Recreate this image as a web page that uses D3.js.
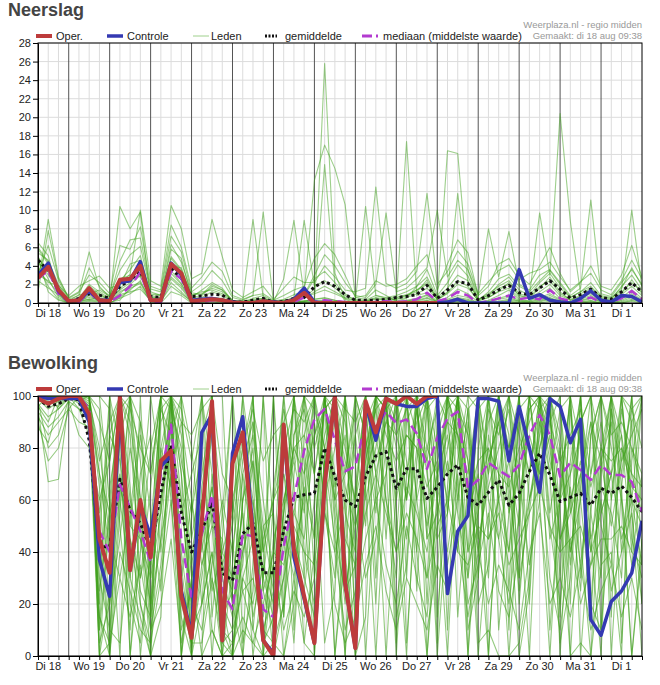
<!DOCTYPE html>
<html>
<head>
<meta charset="utf-8">
<script src="https://cdn.jsdelivr.net/npm/d3@7"></script>
<style>
  body { margin: 0; background: #fff; }
  svg { display: block; font-family: Arial, "Liberation Sans", sans-serif; }
</style>
</head>
<body>
<div id="chart"></div>
<script>
// 6-hourly steps from di 18 aug 06:00 up to wo 2 sep 00:00 (60 steps)
const dayLabels = ["Di 18", "Wo 19", "Do 20", "Vr 21", "Za 22", "Zo 23", "Ma 24", "Di 25",
                   "Wo 26", "Do 27", "Vr 28", "Za 29", "Zo 30", "Ma 31", "Di 1"];
const rainTicks = [0, 2, 4, 6, 8, 10, 12, 14, 16, 18, 20, 22, 24, 26, 28];
const cloudTicks = [0, 20, 40, 60, 80, 100];

// ---- Neerslag (mm) ----
const rainOper = [2.7,3.9,1.4,  0.2,0.3,1.6,0.3,  0.2,2.5,2.6,4.0,  0.3,0.3,4.2,3.2,  0.2,0.3,0.4,0.3,
  0.05,0,0,0.2,  0.05,0,0.3,1.1,  0,0,0,0,  0,0,0,0,  0,0,0,0,  0];
const rainControl = [3.0,4.3,1.3,  0.2,0.3,1.3,0.3,  0.3,2.2,2.4,4.45,  0.3,0.3,4.3,3.0,  0.3,0.4,0.5,0.3,
  0.1,0,0,0.2,  0.1,0,0.4,1.6,  0.1,0,0,0,  0,0,0,0,  0,0,0,0,  0,0.1,0.4,0,  0,0,0,0,
  3.6,0.5,0.9,0.3,  0.1,0,0.5,1.3,  0.3,0.1,0.8,0.7,  0.1];
const rainMean = [4.6,3.5,1.4,  0.15,0.5,1.0,0.85,  0.5,1.75,2.5,3.4,  0.7,0.6,3.7,2.65,  0.7,0.75,0.95,0.85,
  0.15,0.1,0.3,0.5,  0.1,0.15,0.5,0.6,  1.75,2.3,1.8,0.9,  0.3,0.3,0.3,0.4,  0.6,0.7,0.9,1.9,
  0.5,1.4,2.3,2.1,  0.3,0.8,1.4,1.9,  1.1,0.9,1.6,2.4,  1.5,0.5,0.9,1.5,  0.6,0.4,1.2,2.2,  1.2];
const rainMedian = [2.6,3.5,1.0,  0.1,0.1,1.2,0.1,  0.1,0.8,1.8,3.3,  0.1,0.1,3.4,2.6,  0.1,0.1,0.3,0.3,
  0,0,0,0.1,  0,0,0.1,0.6,  0.1,0.3,0.2,0.1,  0,0,0.1,0.2,  0.1,0.2,0.4,1.1,
  0.2,0.5,1.2,0.8,  0,0.2,0.5,0.8,  0.4,0.6,0.4,1.4,  0.5,0.2,0.2,0.6,  0.1,0.1,0.5,1.3,  0.4];
const rainMembers = [
  [5.8,4.2,1.6,  0.2,0.4,1.2,0.8,  0.3,1.5,2.8,3.9,  0.6,0.4,4.1,3.0,  0.5,0.6,1.2,0.8,  0.1,0,0.2,0.3,  0,0.1,0.4,0.6,  1.5,25.8,3.2,0.4,  0,0.2,0.5,0.3,  0.4,0.8,1.2,2.5,  0.3,1.1,2.4,1.8,  0.2,0.6,1.3,2.2,  0.8,0.5,1.6,2.8,  1.2,0.3,0.7,1.4,  0.5,0.2,1.0,2.5,  1.0],
  [2.1,9.0,2.8,  0.5,1.1,5.5,1.6,  0.8,3.5,5.2,6.1,  1.2,0.8,6.3,4.4,  1.1,0.9,2.0,1.4,  0.3,0.1,0.5,0.8,  0.2,0.4,0.9,1.2,  13.2,17.0,14.5,10.6,  0.6,0.4,1.4,0.8,  0.2,0.5,1.8,3.6,  0.8,2.2,4.1,2.9,  0.3,1.2,2.6,3.1,  1.8,1.2,2.4,3.5,  2.0,0.6,1.2,2.2,  0.8,0.6,1.6,3.8,  1.8],
  [6.5,5.1,0.8,  0,0.2,0.4,0.3,  0.1,10.4,8.0,9.8,  0.3,0.2,3.5,2.1,  0.2,0.3,0.5,0.4,  0,0,0.1,0,  0,0,0.1,0.2,  0.3,14.9,2.0,0.2,  0.1,0,0.2,0.1,  0.3,17.4,0.8,1.1,  0.2,0.6,1.5,1.0,  0.1,0.3,0.8,1.4,  0.4,0.2,0.9,1.6,  0.5,0.1,0.4,0.8,  0.2,0.1,0.6,1.4,  0.5],
  [3.6,2.2,1.9,  0.8,1.8,2.4,2.9,  1.6,2.0,3.1,10.0,  2.4,1.8,10.5,8.0,  2.6,3.2,9.0,5.0,  1.4,0.6,1.2,1.8,  0.4,1.6,2.8,2.2,  2.2,4.0,2.8,1.4,  1.2,1.6,12.5,2.1,  1.6,2.1,3.4,11.8,  2.0,3.4,5.6,4.2,  1.0,2.3,3.5,4.1,  2.5,3.2,3.6,4.4,  2.8,1.4,2.3,3.2,  1.4,0.9,2.4,4.6,  2.6],
  [4.8,1.2,0.3,  0,0,0.2,0.1,  0,0.5,1.0,1.8,  0.1,0,1.2,0.8,  0,0,0.1,0,  0,0,0,0,  0,0,0,0,  0,0.2,0.1,0,  0,0,0,0,  0,0,0.1,0.3,  0,0,0.2,0.1,  0,0,0,0.2,  0,0,0.1,0.4,  0.1,0,0,0.1,  0,0,0,0.3,  0.1],
  [4.2,3.8,1.1,  0.2,0.6,1.5,0.9,  0.4,2.4,3.6,5.1,  0.8,0.5,5.0,3.6,  0.6,1.4,2.2,1.6,  0.2,0.2,9.0,0.6,  0,0.3,0.5,0.8,  2.6,3.4,2.2,1.0,  0.2,10.4,0.8,0.5,  0.6,0.9,1.4,2.2,  0.4,16.4,16.1,3.5,  0.4,0.8,2.0,2.8,  1.4,0.8,2.2,3.2,  1.6,0.6,1.2,1.8,  0.6,0.4,1.8,3.0,  1.4],
  [5.0,3.0,1.5,  0.1,0.3,0.6,0.4,  0.2,1.0,2.0,3.0,  0.4,0.3,3.2,2.0,  0.3,0.4,0.6,0.5,  0,0,0.1,0.2,  0,0,0.1,0.2,  0.4,0.6,0.3,0.1,  0,0,0.1,0,  0.1,0.2,0.4,0.8,  0.1,0.3,0.6,0.4,  0,0.1,0.4,0.6,  0.2,0.1,0.4,0.8,  0.3,0.1,0.2,0.5,  0.1,0,0.3,0.8,  0.3],
  [3.2,6.2,2.4,  0.4,0.8,3.8,1.8,  0.6,4.5,6.8,7.0,  1.5,1.2,7.2,5.5,  1.2,2.0,3.5,2.4,  0.6,0.3,0.8,9.8,  0.1,2.6,8.9,0.9,  3.0,5.2,4.0,2.2,  0.8,0.6,2.0,9.7,  1.2,1.6,2.6,3.8,  10.0,2.8,4.6,3.6,  0.8,8.0,2.8,7.7,  2.0,1.4,3.0,3.6,  2.2,0.8,1.6,11.1,  1.0,0.7,2.2,3.6,  2.0],
  [4.6,2.6,0.6,  0,0.1,0.3,0.2,  0,0.6,1.4,2.4,  0.2,0.1,2.2,1.2,  0.1,0.1,0.2,0.1,  0,0,0,0,  0,0,0,0.1,  0.1,0.2,0.1,0,  0,0,0,0,  0,0.1,0.2,0.5,  0,0.1,0.4,0.2,  0,0,0.1,0.3,  0.1,0,0.2,0.5,  0.1,0,0.1,0.2,  0,0,0.1,0.4,  0.2],
  [5.4,4.6,2.0,  0.3,0.5,2.0,1.2,  0.5,1.8,4.2,4.6,  1.0,0.9,4.8,3.4,  0.9,1.0,1.6,1.2,  0.3,0.1,0.4,0.5,  0.1,0.2,0.6,8.9,  1.8,2.4,1.6,0.8,  0.4,0.3,0.8,0.6,  0.8,1.2,1.8,2.8,  0.6,1.6,3.0,2.4,  0.4,1.0,1.8,2.4,  1.0,0.7,9.7,3.0,  20.4,8.8,1.0,1.6,  0.7,0.5,1.4,10.0,  1.6],
  [3.9,1.8,0.4,  0,0.1,0.8,0.2,  0.1,0.3,1.6,2.1,  0.2,0.2,2.6,1.6,  0.1,0.2,0.3,0.2,  0,0,0,0.1,  0,0,0.1,0.1,  0.2,0.3,0.2,0.1,  0,0.1,0.1,0,  0,0.2,0.3,0.6,  0.1,0.2,0.5,0.3,  0,0.1,0.2,0.4,  0.2,0.1,0.3,0.6,  0.2,0.1,0.1,0.3,  0,0.1,0.2,0.6,  0.3],
  [4.9,3.4,1.8,  0.2,0.9,1.0,1.4,  0.7,2.6,3.0,2.8,  0.9,0.8,4.0,3.8,  0.8,1.2,1.4,1.0,  0.2,0.2,0.3,0.5,  0.2,0.3,0.4,0.5,  1.2,1.8,1.2,0.6,  0.3,0.2,0.6,0.4,  0.6,0.8,1.4,2.0,  0.5,1.2,11.8,2.2,  0.4,0.8,1.6,2.0,  0.8,0.6,1.8,2.4,  1.0,0.4,0.8,1.2,  0.4,0.3,1.2,2.2,  1.2],
  [2.4,1.6,0.9,  0,0.2,0.4,0.6,  0.2,0.9,1.2,1.5,  0.3,0.2,1.8,1.0,  0.2,0.3,0.4,0.3,  0,0,0.1,0.1,  0,0,0,0.1,  0,0.1,0,0,  0,0,0,0,  0,0,0.1,0.2,  0,0,0.1,0,  0,0,0,0.1,  0,0,0,0.2,  0,0,0,0.1,  0,0,0,0.2,  0],
  [1.2,7.8,2.6,  0.6,1.2,3.0,2.2,  1.0,6.2,5.8,8.2,  1.8,1.4,8.4,6.0,  1.6,2.8,4.4,3.4,  0.8,0.4,0.8,1.0,  0.3,0.8,1.4,1.8,  4.8,6.4,5.2,3.0,  0.6,0.8,2.4,1.8,  2.0,2.6,4.0,5.2,  1.4,4.2,6.8,5.4,  0.8,1.8,4.2,4.8,  3.0,2.0,4.0,6.0,  3.2,1.2,2.2,4.0,  1.8,1.4,3.0,6.2,  2.8],
  [6.0,4.4,1.2,  0.1,0.2,0.9,0.5,  0.2,1.2,1.8,2.2,  0.4,0.4,2.8,1.8,  0.2,0.2,0.4,0.4,  0,0,0.1,0.1,  0,0.1,0.2,0.2,  0.4,0.5,0.3,0.1,  0,0,0.1,0.1,  0.1,0.3,0.5,0.9,  0.1,0.4,0.8,0.6,  0,0.2,0.5,0.8,  0.3,0.2,0.6,1.0,  0.4,0.1,0.3,0.6,  0.1,0.1,0.5,1.0,  0.4],
  [3.0,2.4,1.0,  0.2,0.4,1.8,1.0,  0.4,1.4,2.2,3.4,  0.6,0.6,5.8,4.8,  0.6,0.8,1.8,1.4,  0.2,0.1,0.2,0.4,  0.1,0.2,0.5,0.7,  1.0,1.4,1.0,0.5,  0.2,0.2,0.4,0.3,  0.4,0.6,1.0,1.6,  0.4,1.0,2.0,1.6,  0.3,0.6,1.2,1.6,  0.6,0.5,1.2,2.0,  0.8,0.3,0.6,1.0,  0.3,0.2,0.9,1.8,  0.8]
];

// ---- Bewolking (%) ----
const cloudOper = [99,97,99,100,100,93,  45,32,100,33,60,38,75,79,23,7,  52,98,6,74,86,46,6,0,89,41,
  23,5,66,100,28,3,98,86,99,97,  100,97,100,100];
const cloudControl = [100,99,99,99,99,90,  37,23,95,33,58,46,73,77,25,8,  86,93,6,78,92,48,6,1,88,38,
  22,5,66,100,28,3,97,83,99,97,  96,96,99,100,24,48,54,99,99,98,  75,96,80,63,99,96,82,91,14,8,  21,25,32,52];
const cloudMean = [99,96,97,99,98.5,83,  42,42,68,56,51,41,63,81,55,40,  48,59,32,29,47,51,32,32,48,61,
  62,62.6,80,69,60,57.4,69,77,78.6,64.5,  72,72,60.6,65,70,73.5,61,58,63,67.7,
  58,62.6,71,78,69.6,59.4,61,62.6,58,64.5,  62.6,65.4,61,55.5];
const cloudMedian = [100,99,99,100,100,95,  48,40,66,57,48,36,70,89,45,22,  47,62,25,18,47,46,18,15,42,61,
  79,91,95,83,71,73,89.5,88,94,89.5,  91,85.6,72,84,91.4,94,64.5,67.7,74.4,71.5,
  69,73.5,85,92.7,85,69,74.4,71.5,67.7,73.5,  69.6,69.6,67,55.5];
const cloudMembers = [
  [100,100,98,100,100,96,  70,40,95,60,45,20,80,100,70,30,  55,85,20,10,60,75,30,15,55,80,  70,85,100,90,55,40,90,100,95,60,  85,80,50,70,95,100,65,40,75,90,  55,70,95,100,80,45,60,75,40,80,  70,85,60,50],
  [97,92,95,99,100,100,  25,55,70,35,60,45,55,90,30,60,  35,50,45,20,40,60,15,40,35,55,  80,45,100,65,85,30,75,95,100,80,  60,95,70,45,55,100,75,30,85,60,  75,50,95,100,55,80,40,70,90,50,  35,80,65,60],
  [100,100,100,100,98,95,  5,20,45,80,55,10,35,70,90,60,  20,40,10,5,30,20,45,60,70,40,  25,60,85,100,70,95,60,80,100,45,  100,60,30,85,100,80,40,95,60,45,  20,55,100,70,85,30,95,60,20,75,  90,40,80,65],
  [95,67,68,98,85,80,  60,75,100,45,30,65,100,95,40,10,  65,90,35,50,80,100,25,10,30,85,  95,70,100,55,20,65,100,70,90,100,  75,40,95,60,80,100,55,70,30,95,  80,100,60,85,100,75,35,90,100,55,  70,100,45,30],
  [100,98,96,100,100,100,  95,10,60,100,75,30,55,100,75,55,  80,30,5,0,40,55,10,25,80,40,  60,100,70,90,45,35,80,95,60,30,  90,100,45,55,75,40,90,60,100,70,  40,75,100,95,45,60,100,80,45,65,  55,30,90,100],
  [99,95,98,100,95,90,  35,65,90,20,5,40,60,85,100,80,  40,65,30,60,25,10,50,55,15,70,  100,80,95,40,60,85,50,100,95,70,  45,80,100,70,35,60,95,40,70,100,  65,30,55,90,70,95,60,25,85,100,  80,60,35,70],
  [100,100,100,100,100,98,  80,45,30,55,90,70,100,100,60,20,  10,35,60,40,75,90,60,30,55,100,  40,20,75,100,90,55,30,45,80,95,  100,60,80,95,70,100,40,55,95,85,  100,70,35,60,95,40,75,100,55,30,  95,70,100,40],
  [92,85,90,95,100,100,  10,50,95,100,60,15,80,65,25,5,  30,60,15,25,70,40,5,45,60,75,  55,90,60,80,100,40,95,60,70,100,  60,95,55,30,100,85,70,100,45,60,  40,90,70,100,50,20,65,35,70,90,  60,95,70,55],
  [100,100,100,100,100,100,  90,75,100,85,30,50,95,100,85,45,  70,95,55,20,35,75,40,60,80,95,  90,100,100,95,75,60,80,100,100,85,  95,100,80,70,100,95,85,60,90,100,  80,95,100,100,90,75,85,95,70,100,  85,90,80,70],
  [98,80,85,99,100,95,  15,0,40,25,10,5,30,60,15,0,  20,40,5,10,25,30,10,5,20,45,  30,15,55,40,10,25,45,60,35,20,  50,30,15,60,40,70,20,35,55,25,  15,40,60,75,30,10,45,20,35,60,  25,40,55,20],
  [100,96,100,100,100,100,  50,0,85,100,20,5,90,100,35,0,  55,100,10,45,0,35,100,5,45,100,  75,10,100,70,0,100,85,20,100,55,  0,75,100,15,65,100,0,80,100,10,  55,100,20,90,100,0,70,100,15,75,  100,5,75,100],
  [96,100,100,100,98,100,  40,20,65,50,85,55,25,95,80,35,  60,25,40,30,55,15,35,20,50,30,  65,45,100,60,25,50,70,85,60,40,  65,55,40,70,85,55,30,60,80,45,  70,25,60,80,95,45,55,70,40,55,  70,45,60,35],
  [100,100,100,99,100,100,  100,95,60,30,70,85,40,80,55,70,  85,100,30,15,60,80,25,40,70,55,  45,85,95,100,80,60,100,75,90,85,  70,90,100,80,60,90,75,45,65,80,  95,60,85,70,100,80,40,60,90,75,  50,75,85,95],
  [94,88,92,98,95,85,  20,100,50,10,100,20,45,100,10,25,  100,15,55,100,5,25,100,50,0,20,  100,70,5,25,100,75,0,65,100,15,  35,100,75,0,55,100,65,0,50,100,  60,0,25,100,70,5,30,100,45,0,  95,60,0,45],
  [100,100,100,100,100,100,  70,55,100,90,60,35,75,100,95,75,  100,70,40,55,85,60,30,65,95,75,  100,95,80,60,70,100,85,55,100,90,  100,85,75,100,90,60,95,100,75,90,  100,85,70,95,100,85,55,90,100,80,  100,75,95,80],
  [90,75,80,95,90,88,  0,60,100,65,0,40,100,60,0,55,  100,50,0,35,100,70,0,35,100,65,  5,40,100,50,0,60,100,70,0,65,  100,40,0,50,100,65,0,55,100,60,  0,55,100,60,0,65,100,45,0,70,  100,65,0,40],
  [100,100,99,100,100,97,  45,100,80,0,55,100,70,90,0,40,  60,0,45,100,55,0,30,100,45,5,  70,100,80,0,50,100,65,0,70,100,  5,65,100,60,0,75,100,50,0,70,  100,60,0,80,100,55,0,65,100,10,  60,100,55,0],
  [100,100,100,100,100,100,  15,5,30,15,35,10,20,45,5,30,  45,10,0,5,15,5,20,35,10,25,  15,30,60,20,5,15,35,50,25,10,  30,20,10,35,25,45,15,40,20,35,  25,10,40,55,20,30,15,35,10,25,  35,15,30,10],
  [98,100,95,100,97,92,  55,85,75,50,45,30,95,85,60,20,  45,65,35,25,70,85,50,25,60,80,  85,70,95,100,65,50,75,100,85,75,  85,80,65,75,90,85,60,75,80,70,  65,80,90,100,75,60,70,85,65,80,  75,80,70,65],
  [100,100,100,100,100,99,  65,0,55,100,50,0,60,100,70,0,  50,100,20,0,45,100,40,0,55,100,  60,0,80,100,60,0,70,100,75,0,  70,100,0,65,100,15,65,100,0,65,  100,20,70,100,10,60,100,0,55,100,  0,65,100,55],
  [100,97,100,100,100,100,  0,25,90,55,25,15,45,70,20,5,  35,55,10,0,30,45,5,15,30,50,  40,35,75,45,25,35,55,70,55,40,  55,45,30,50,60,40,35,50,45,55,  35,45,55,65,50,40,45,50,35,45,  45,50,40,35],
  [100,100,100,100,100,100,  75,90,100,95,80,70,100,100,90,85,  95,100,70,60,80,95,75,85,90,100,  100,100,100,100,95,90,100,100,100,100,  100,100,95,100,100,100,100,95,100,100,  100,100,100,100,100,95,100,100,100,100,  100,100,95,100],
  [100,100,100,100,100,100,  100,60,0,100,90,15,100,100,0,30,  0,100,100,20,0,90,40,100,15,85,  100,30,100,100,40,85,100,30,100,100,  60,100,20,90,100,85,30,100,70,100,  25,100,100,65,90,100,20,100,100,35,  100,85,40,100],
  [96,90,100,100,100,96,  10,85,100,0,40,80,100,65,100,10,  20,70,0,55,100,10,0,60,100,10,  85,100,55,30,100,10,65,100,45,100,  100,25,100,100,10,100,85,20,35,100,  85,30,100,100,95,15,100,30,85,100,  15,100,90,20],
  [100,100,100,100,100,100,  30,10,5,45,20,0,15,100,100,0,  0,10,0,0,10,5,0,0,20,100,  30,100,100,60,100,10,100,100,100,5,  100,100,100,5,100,100,10,30,100,100,  10,100,100,100,100,100,100,100,20,10,  100,100,60,100],
  [88,82,97,100,100,100,  0,5,100,30,15,0,100,100,25,5,  5,30,0,0,60,100,0,5,0,30,  5,0,75,0,40,0,15,100,95,100,  30,100,45,100,55,100,95,5,10,0,  0,5,30,100,100,100,0,5,0,35,  40,0,100,100]
];

const width = 660, height = 685;
const plot = {left: 38, right: 642, height: 260};

const start = new Date(2015, 7, 18, 6), end = new Date(2015, 8, 2, 0);
const times = d3.range(60).map(i => d3.timeHour.offset(start, i * 6));

const svg = d3.select("#chart").append("svg")
  .attr("width", width)
  .attr("height", height);

const x = d3.scaleTime().domain([start, end]).range([plot.left, plot.right]);

function drawPanel(top, id, title, yMax, yTicks, oper, control, mean, median, members, memberOpacity) {
  const bottom = top + plot.height;
  const y = d3.scaleLinear().domain([0, yMax]).range([bottom, top]);
  const g = svg.append("g");

  g.append("clipPath").attr("id", "clip-" + id)
    .append("rect").attr("x", plot.left).attr("y", top)
    .attr("width", plot.right - plot.left).attr("height", plot.height);

  // title
  g.append("text").attr("x", 8).attr("y", top - 27)
    .style("font-size", "18px").style("font-weight", "bold").attr("fill", "#444")
    .text(title);

  // source text
  g.append("text").attr("x", plot.right).attr("y", top - 15).attr("text-anchor", "end")
    .style("font-size", "9.5px").attr("fill", "#999").text("Weerplaza.nl - regio midden");
  g.append("text").attr("x", plot.right).attr("y", top - 4).attr("text-anchor", "end")
    .style("font-size", "9.5px").attr("fill", "#999").text("Gemaakt: di 18 aug 09:38");

  // grid
  g.selectAll(".hgrid").data(yTicks).enter().append("line")
    .attr("x1", plot.left).attr("x2", plot.right)
    .attr("y1", d => y(d)).attr("y2", d => y(d))
    .attr("stroke", "#dcdcdc").attr("stroke-width", 1);

  const sixHours = d3.timeHour.every(6).range(d3.timeHour.offset(start, 1), end);
  g.selectAll(".vgrid").data(sixHours.filter(t => t.getHours() !== 0)).enter().append("line")
    .attr("x1", d => x(d)).attr("x2", d => x(d))
    .attr("y1", top).attr("y2", bottom)
    .attr("stroke", "#dcdcdc").attr("stroke-width", 1);

  const days = d3.timeDay.range(d3.timeDay.ceil(start), end);
  g.selectAll(".dayline").data(days).enter().append("line")
    .attr("x1", d => x(d)).attr("x2", d => x(d))
    .attr("y1", top).attr("y2", bottom)
    .attr("stroke", "#555").attr("stroke-width", 1);

  // series
  const line = d3.line()
    .x((d, i) => x(times[i]))
    .y(d => y(d));

  const series = g.append("g").attr("clip-path", `url(#clip-${id})`)
    .attr("fill", "none").attr("stroke-linejoin", "round");

  series.selectAll(".member").data(members).enter().append("path")
    .attr("d", line)
    .attr("stroke", "#3c9f18").attr("stroke-opacity", memberOpacity).attr("stroke-width", 1.1);

  series.append("path").attr("d", line(mean))
    .attr("stroke", "#111").attr("stroke-width", 3).attr("stroke-dasharray", "3,3");
  series.append("path").attr("d", line(median))
    .attr("stroke", "#b33bd0").attr("stroke-width", 2.5).attr("stroke-dasharray", "10,5");
  series.append("path").attr("d", line(control))
    .attr("stroke", "#3439b2").attr("stroke-width", 3.5);
  series.append("path").attr("d", line(oper))
    .attr("stroke", "#bd3b3b").attr("stroke-width", 4);

  // frame
  g.append("rect").attr("x", plot.left).attr("y", top)
    .attr("width", plot.right - plot.left).attr("height", plot.height)
    .attr("fill", "none").attr("stroke", "#000").attr("stroke-width", 1);

  // axes
  const yAxis = g.append("g").attr("transform", `translate(${plot.left},0)`)
    .call(d3.axisLeft(y).tickValues(yTicks).tickSize(5).tickSizeOuter(0).tickPadding(2));
  yAxis.selectAll("text").style("font-size", "11px").attr("fill", "#222");

  const xAxis = g.append("g").attr("transform", `translate(0,${bottom})`)
    .call(d3.axisBottom(x).ticks(d3.timeHour.every(6)).tickSize(4).tickSizeOuter(0).tickFormat(""));
  xAxis.select(".domain").attr("stroke", "#000");

  g.selectAll(".daylabel").data(dayLabels).enter().append("text")
    .attr("x", (d, i) => x(d3.timeHour.offset(d3.timeDay.floor(start), 12 + 24 * i)))
    .attr("y", bottom + 14)
    .attr("text-anchor", "middle")
    .style("font-size", "11px").attr("fill", "#222")
    .text(d => d);

  // legend
  const ly = top - 7;
  const lg = g.append("g").style("font-size", "11px").attr("fill", "#222");
  lg.append("line").attr("x1", 36).attr("x2", 52).attr("y1", ly).attr("y2", ly)
    .attr("stroke", "#bd3b3b").attr("stroke-width", 4);
  lg.append("text").attr("x", 56).attr("y", ly + 4).text("Oper.");
  lg.append("line").attr("x1", 107).attr("x2", 123).attr("y1", ly).attr("y2", ly)
    .attr("stroke", "#3439b2").attr("stroke-width", 3.5);
  lg.append("text").attr("x", 127).attr("y", ly + 4).text("Controle");
  lg.append("line").attr("x1", 193).attr("x2", 209).attr("y1", ly).attr("y2", ly)
    .attr("stroke", "#9fd08c").attr("stroke-width", 1);
  lg.append("text").attr("x", 211).attr("y", ly + 4).text("Leden");
  lg.append("line").attr("x1", 265).attr("x2", 277).attr("y1", ly).attr("y2", ly)
    .attr("stroke", "#111").attr("stroke-width", 3).attr("stroke-dasharray", "2,1.5");
  lg.append("text").attr("x", 285).attr("y", ly + 4).text("gemiddelde");
  lg.append("line").attr("x1", 362).attr("x2", 378).attr("y1", ly).attr("y2", ly)
    .attr("stroke", "#b33bd0").attr("stroke-width", 3).attr("stroke-dasharray", "10,4");
  lg.append("text").attr("x", 383).attr("y", ly + 4).text("mediaan (middelste waarde)");
}

drawPanel(43, "rain", "Neerslag", 28, rainTicks, rainOper, rainControl, rainMean, rainMedian, rainMembers, 0.5);
drawPanel(396, "cloud", "Bewolking", 100, cloudTicks, cloudOper, cloudControl, cloudMean, cloudMedian, cloudMembers, 0.55);
</script>
</body>
</html>
